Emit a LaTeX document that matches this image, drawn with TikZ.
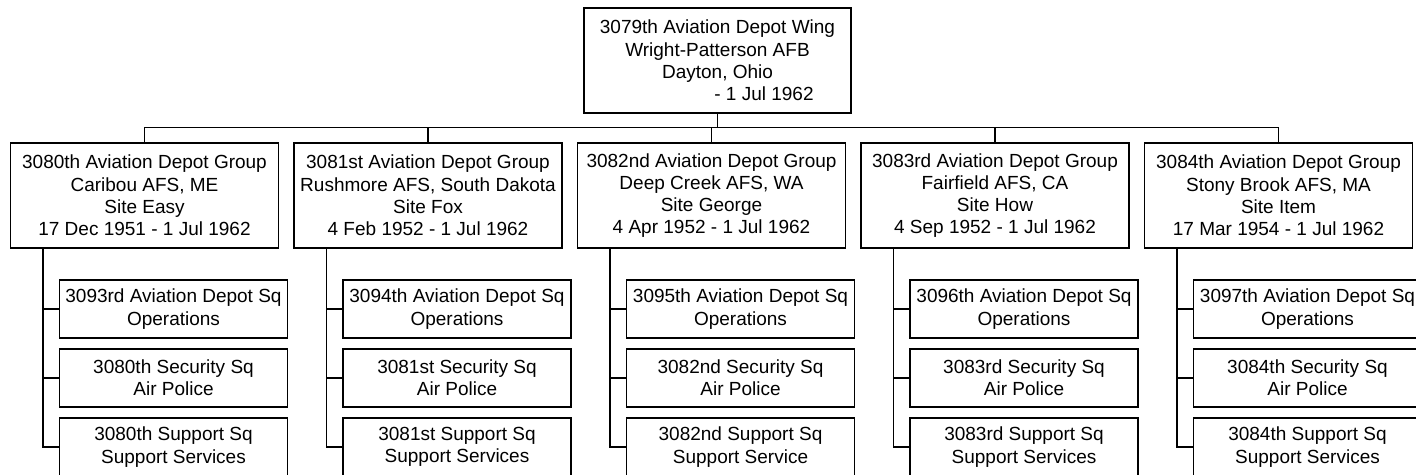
\documentclass[tikz,border=0pt]{standalone}
\usepackage{fontspec}
\setmainfont{Liberation Sans}
\usetikzlibrary{calc}

\begin{document}
\begin{tikzpicture}[
    x=1pt,y=-1pt,
    line width=1.1pt,
    font=\fontsize{19}{22.2}\selectfont,
    unitbox/.style={draw,align=center,inner sep=0pt,
        minimum width=268pt,minimum height=105pt},
    sqbox/.style={draw,align=center,inner sep=0pt,
        minimum width=228pt,minimum height=58pt},
  ]
  \useasboundingbox (0,0) rectangle (1416,474);

  % ============================================================= WING
  \node[unitbox,minimum width=267pt] (wing) at (717.5,60.5)
    {3079th Aviation Depot Wing\\Wright-Patterson AFB\\Dayton, Ohio\\
     \hspace*{93pt}- 1 Jul 1962};

  % ============================================================= GROUPS
  % #1 index  #2 group no.  #3 base  #4 site  #5 from  #6 depot sq  #7 svc
  \foreach \i/\grp/\base/\site/\from/\opsq/\svc in {
      1/3080th/{Caribou AFS, ME}/Easy/{17 Dec 1951}/3093rd/Services,
      2/3081st/{Rushmore AFS, South Dakota}/Fox/{4 Feb 1952}/3094th/Services,
      3/3082nd/{Deep Creek AFS, WA}/George/{4 Apr 1952}/3095th/Service,
      4/3083rd/{Fairfield AFS, CA}/How/{4 Sep 1952}/3096th/Services,
      5/3084th/{Stony Brook AFS, MA}/Item/{17 Mar 1954}/3097th/Services}{
    \pgfmathsetmacro\cx{144.5+283.5*(\i-1)}

    \node[unitbox] (grp\i) at (\cx,195.5)
      {\grp{} Aviation Depot Group\\\base\\Site \site\\\from{} - 1 Jul 1962};
    \draw (wing.south) |- ($(grp\i.north)+(0,-15)$) -- (grp\i.north);

    % --- squadrons under the group ---
    \node[sqbox] (ops\i) at (\cx+29,309) {\opsq{} Aviation Depot Sq\\Operations};
    \node[sqbox] (air\i) at (\cx+29,378) {\grp{} Security Sq\\Air Police};
    \node[sqbox] (sup\i) at (\cx+29,447) {\grp{} Support Sq\\Support \svc};

    \coordinate (spine\i) at ($(grp\i.south west)+(33,0)$);
    \draw (spine\i) |- (sup\i.west);
    \draw (spine\i |- ops\i.west) -- (ops\i.west);
    \draw (spine\i |- air\i.west) -- (air\i.west);
  }

\end{tikzpicture}
\end{document}
